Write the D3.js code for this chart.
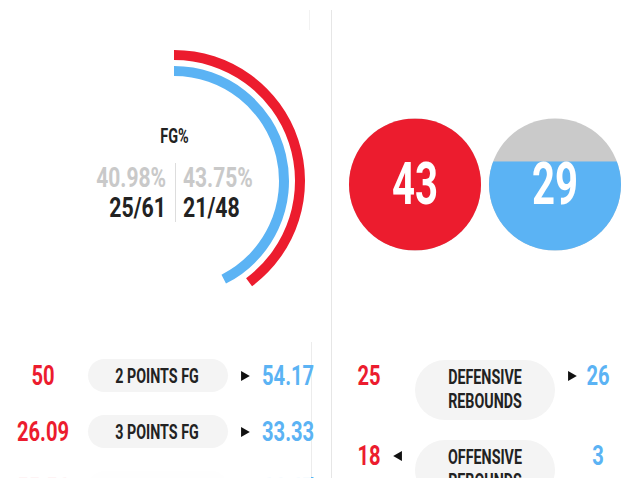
<!DOCTYPE html>
<html>
<head>
<meta charset="utf-8">
<script src="https://cdn.jsdelivr.net/npm/d3@7"></script>
<style>
  html, body { margin: 0; padding: 0; background: #fff; }
  svg { display: block; }
  text { font-family: Roboto, "Noto Sans", sans-serif; font-weight: 700; }
</style>
</head>
<body>
<svg id="chart" width="640" height="488"></svg>
<script>
// ---------- data ----------
const teams = ["home", "away"];
const teamColors = ["#ec1c2e", "#5bb3f4"];
const fgLabel = "FG%";
const fgPct = [40.98, 43.75];
const fgMade = [25, 21];
const fgAtt = [61, 48];
const rebTotals = [43, 29];
const leftStats = ["2 POINTS FG", "3 POINTS FG", "FREE THROWS"];
const leftHome = [50, 26.09, 55.56];
const leftAway = [54.17, 33.33, 66.67];
const rightStats = [["DEFENSIVE", "REBOUNDS"], ["OFFENSIVE", "REBOUNDS"]];
const rightHome = [25, 18];
const rightAway = [26, 3];

// ---------- setup ----------
const W = 640, H = 488;
const svg = d3.select("#chart");
function condense(sel, f) {
  sel.each(function () {
    const len = this.getComputedTextLength();
    d3.select(this).attr("textLength", len * f).attr("lengthAdjust", "spacingAndGlyphs");
  });
  return sel;
}
const fmt = v => String(v);
const dark = "#222222", grey = "#c9c9c9", pill = "#f4f4f4", line = "#e6e6e6";

const defs = svg.append("defs");
defs.append("clipPath").attr("id", "clipAll").append("rect").attr("x", 0).attr("y", 0).attr("width", W).attr("height", 478);
const root = svg.append("g").attr("clip-path", "url(#clipAll)");

// divider lines
root.append("line").attr("x1", 331.5).attr("x2", 331.5).attr("y1", 10).attr("y2", 478).attr("stroke", line).attr("stroke-width", 1);
root.append("line").attr("x1", 311.5).attr("x2", 311.5).attr("y1", 342).attr("y2", 478).attr("stroke", "#ececec").attr("stroke-width", 1);
root.append("line").attr("x1", 309.5).attr("x2", 309.5).attr("y1", 10).attr("y2", 30).attr("stroke", "#f2f2f2").attr("stroke-width", 1);

// ---------- FG% arcs ----------
const cx = 174, cy = 181;
const angle = d3.scaleLinear().domain([0, 100]).range([0, 350 * Math.PI / 180]);
const radii = [[121, 131], [105, 115]];
const arcG = root.append("g").attr("transform", `translate(${cx},${cy})`);
arcG.selectAll("path").data(teams).join("path")
  .attr("d", (d, i) => d3.arc().innerRadius(radii[i][0]).outerRadius(radii[i][1]).startAngle(0).endAngle(angle(fgPct[i]))())
  .attr("fill", (d, i) => teamColors[i]);

condense(root.append("text").attr("x", cx + 0.5).attr("y", 143).attr("text-anchor", "middle").attr("font-size", 19.5).attr("fill", dark).text(fgLabel), 0.74);
root.append("line").attr("x1", cx + 1.5).attr("x2", cx + 1.5).attr("y1", 163).attr("y2", 222).attr("stroke", "#dddddd");
const sideX = [cx - 8, cx + 9];
const anchors = ["end", "start"];
teams.forEach((t, i) => {
  condense(root.append("text").attr("x", sideX[i]).attr("y", 187).attr("text-anchor", anchors[i]).attr("font-size", 28).attr("fill", grey)
    .text(d3.format(".2f")(fgPct[i]) + "%"), 0.75);
  condense(root.append("text").attr("x", sideX[i]).attr("y", 217).attr("text-anchor", anchors[i]).attr("font-size", 28).attr("fill", dark)
    .text(fgMade[i] + "/" + fgAtt[i]), 0.76);
});

// ---------- rebound circles ----------
const circX = [415, 555], circY = 184.5, circR = 66;
const fill = d3.scaleLinear().domain([0, d3.max(rebTotals)]).range([0, 2 * circR]);
teams.forEach((t, i) => {
  const g = root.append("g");
  const id = "circClip" + i;
  defs.append("clipPath").attr("id", id).append("circle").attr("cx", circX[i]).attr("cy", circY).attr("r", circR);
  g.append("circle").attr("cx", circX[i]).attr("cy", circY).attr("r", circR).attr("fill", "#cacaca");
  const h = fill(rebTotals[i]);
  g.append("rect").attr("clip-path", `url(#${id})`).attr("x", circX[i] - circR).attr("y", circY + circR - h)
    .attr("width", 2 * circR).attr("height", h).attr("fill", teamColors[i]);
  condense(g.append("text").attr("x", circX[i]).attr("y", 204).attr("text-anchor", "middle").attr("font-size", 59).attr("fill", "#fff")
    .text(rebTotals[i]), 0.68);
});

// ---------- triangle helper ----------
const tri = d3.symbol(d3.symbolTriangle, 44);
function arrow(x, y, dir) {
  root.append("path").attr("d", tri()).attr("transform", `translate(${x},${y}) rotate(${dir > 0 ? 90 : -90})`).attr("fill", "#111");
}

// ---------- left stat rows ----------
const leftY = d3.scalePoint().domain(leftStats).range([375, 487]);
leftStats.forEach((s, i) => {
  const y = leftY(s);
  const g = root.append("g");
  g.append("rect").attr("x", 88).attr("y", y - 16).attr("width", 140).attr("height", 33).attr("rx", 16.5).attr("fill", pill);
  condense(g.append("text").attr("x", 157).attr("y", y + 8).attr("text-anchor", "middle").attr("font-size", 21).attr("fill", dark).text(s), 0.68);
  condense(g.append("text").attr("x", 43).attr("y", y + 10).attr("text-anchor", "middle").attr("font-size", 28).attr("fill", teamColors[0]).text(fmt(leftHome[i])), 0.72);
  condense(g.append("text").attr("x", 262).attr("y", y + 10).attr("text-anchor", "start").attr("font-size", 28).attr("fill", teamColors[1]).text(fmt(leftAway[i])), 0.72);
  arrow(244, y + 1, leftAway[i] > leftHome[i] ? 1 : -1);
});
// fade-out at the bottom of the left list
const grad = defs.append("linearGradient").attr("id", "fade").attr("x1", 0).attr("x2", 0).attr("y1", 0).attr("y2", 1);
grad.append("stop").attr("offset", "0%").attr("stop-color", "#fff").attr("stop-opacity", 0.85);
grad.append("stop").attr("offset", "100%").attr("stop-color", "#fff").attr("stop-opacity", 0.95);
root.append("rect").attr("x", 0).attr("y", 458).attr("width", 311).attr("height", 20).attr("fill", "url(#fade)");

// ---------- right stat rows ----------
const rightY = d3.scalePoint().domain(rightStats.map(d => d.join(" "))).range([375, 455]);
rightStats.forEach((s, i) => {
  const y = rightY(s.join(" "));
  const g = root.append("g");
  g.append("rect").attr("x", 415).attr("y", y - 15).attr("width", 140).attr("height", 60).attr("rx", 30).attr("fill", pill);
  s.forEach((ln, j) => {
    condense(g.append("text").attr("x", 485).attr("y", y + 9 + j * 23.5).attr("text-anchor", "middle").attr("font-size", 21).attr("fill", dark).text(ln), 0.68);
  });
  condense(g.append("text").attr("x", 369).attr("y", y + 10).attr("text-anchor", "middle").attr("font-size", 28).attr("fill", teamColors[0]).text(fmt(rightHome[i])), 0.72);
  condense(g.append("text").attr("x", 598).attr("y", y + 10).attr("text-anchor", "middle").attr("font-size", 28).attr("fill", teamColors[1]).text(fmt(rightAway[i])), 0.72);
  if (rightAway[i] > rightHome[i]) arrow(571, y + 1, 1); else arrow(399, y + 1, -1);
});
</script>
</body>
</html>
